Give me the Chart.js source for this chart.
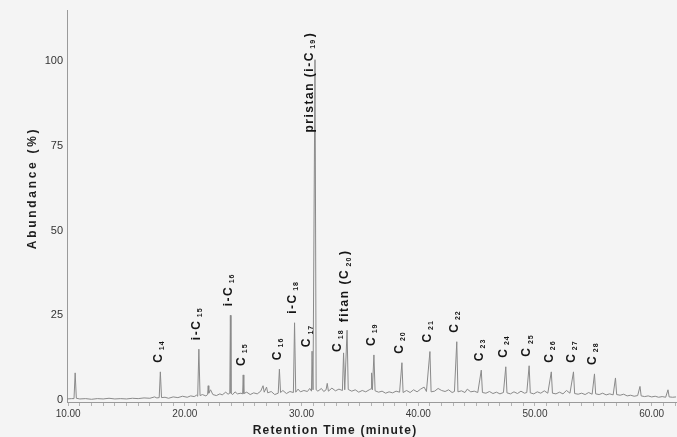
<!DOCTYPE html>
<html>
<head>
    <title>Chromatogram</title>
    <script src="https://cdn.jsdelivr.net/npm/chart.js"></script>
    <style>
        body { margin: 0; background: #f4f4f4; }
        #chart-container { width: 677px; height: 437px; }
    </style>
</head>
<body>
<div id="chart-container">
    <canvas id="gcChart" width="677" height="437"></canvas>
</div>

<script>
    // Trace: retention time (minute) and abundance (%)
    const traceTime = [
        9.9, 10.3, 10.5, 10.6, 10.7, 11.0, 11.5, 12.0, 12.5, 13.0, 13.5, 14.0, 14.5, 15.0, 15.5, 16.0, 16.5, 17.0, 17.4, 17.6,
        17.8, 17.9, 18.0, 18.3, 18.6, 19.0, 19.4, 19.8, 20.2, 20.5, 20.8, 21.0, 21.1, 21.2, 21.3, 21.5, 21.8, 21.95, 22.0, 22.05,
        22.2, 22.4, 22.7, 23.0, 23.2, 23.5, 23.7, 23.85, 23.9, 23.95, 24.1, 24.3, 24.5, 24.8, 24.95, 25.0, 25.05, 25.3, 25.6, 25.9,
        26.2, 26.5, 26.7, 26.8, 27.0, 27.1, 27.4, 27.7, 28.0, 28.1, 28.2, 28.4, 28.7, 29.0, 29.3, 29.4, 29.5, 29.7, 29.9, 30.2,
        30.5, 30.7, 30.85, 30.9, 30.98, 31.15, 31.25, 31.4, 31.7, 31.9, 32.1, 32.2, 32.3, 32.6, 32.9, 33.2, 33.5, 33.6, 33.7, 33.9,
        34.0, 34.3, 34.6, 34.9, 35.2, 35.5, 35.8, 35.95, 36.0, 36.07, 36.2, 36.3, 36.6, 36.9, 37.2, 37.5, 37.8, 38.1, 38.4, 38.6,
        38.7, 39.0, 39.3, 39.6, 39.9, 40.2, 40.5, 40.7, 41.0, 41.1, 41.4, 41.7, 42.0, 42.3, 42.6, 42.9, 43.1, 43.3, 43.4, 43.7,
        44.0, 44.2, 44.5, 44.8, 45.1, 45.4, 45.5, 45.8, 46.1, 46.4, 46.7, 47.0, 47.3, 47.5, 47.6, 47.9, 48.2, 48.5, 48.8, 49.1,
        49.3, 49.5, 49.6, 49.9, 50.2, 50.5, 50.8, 51.1, 51.4, 51.5, 51.8, 52.1, 52.4, 52.7, 53.0, 53.3, 53.4, 53.7, 54.0, 54.3,
        54.6, 54.9, 55.1, 55.2, 55.5, 55.8, 56.1, 56.4, 56.7, 56.9, 57.0, 57.3, 57.6, 57.9, 58.2, 58.5, 58.8, 59.0, 59.1, 59.4,
        59.7, 60.0, 60.3, 60.6, 60.9, 61.2, 61.4, 61.5, 61.8, 62.1
    ];
    const traceAbundance = [
        0.3, 0.4, 0.4, 8.0, 0.5, 0.3, 0.4, 0.2, 0.4, 0.3, 0.5, 0.3, 0.4, 0.3, 0.5, 0.4, 0.6, 0.5, 0.9, 0.6,
        0.7, 8.3, 0.7, 0.8, 0.5, 0.9, 0.7, 1.1, 0.8, 1.2, 1.0, 1.4, 1.1, 15.0, 1.3, 1.6, 1.2, 1.6, 4.2, 2.0,
        3.0, 1.6, 1.3, 1.8, 1.5, 2.3, 1.7, 2.0, 25.0, 2.0, 1.6, 2.4, 1.8, 2.0, 1.8, 7.4, 1.9, 2.3, 1.6, 2.1,
        1.8, 2.6, 4.2, 2.3, 3.8, 2.1, 2.5, 1.6, 2.0, 9.1, 2.2, 2.8, 1.9, 2.5, 2.2, 22.8, 2.3, 3.2, 2.4, 2.8,
        2.5, 3.4, 2.6, 14.4, 3.0, 100.5, 3.0, 2.6, 3.4, 2.5, 3.0, 4.9, 2.6, 3.5, 2.7, 3.2, 2.8, 13.9, 3.0, 20.6,
        3.1, 2.6, 3.0, 2.3, 2.8, 2.4, 3.0, 3.3, 8.0, 3.0, 13.3, 2.7, 2.3, 2.6, 2.0, 2.4, 2.1, 2.6, 2.3, 11.0,
        2.2, 2.8, 2.2, 3.0, 2.4, 3.2, 3.8, 2.5, 14.3, 2.4, 2.6, 3.4, 2.8, 2.5, 3.0, 2.2, 2.5, 17.2, 2.4, 2.7,
        2.2, 3.2, 2.4, 2.6, 2.2, 8.8, 2.2, 2.0, 2.5, 1.9, 2.3, 1.8, 2.2, 9.8, 2.1, 1.8, 2.4, 1.9, 2.6, 2.0,
        2.2, 10.1, 2.1, 1.8, 2.4, 2.0, 2.7, 2.0, 8.3, 2.0, 1.8, 2.3, 1.8, 2.8, 2.0, 8.3, 1.9, 1.7, 2.0, 1.6,
        2.2, 1.7, 7.7, 1.8, 1.6, 2.0, 1.5, 1.8, 1.5, 6.5, 1.6, 1.4, 1.7, 1.2, 1.4, 1.1, 1.3, 4.0, 1.2, 1.0,
        1.2, 0.9, 1.1, 0.8, 1.0, 0.8, 3.0, 0.9, 0.8, 0.9
    ];

    // Named peaks
    const peakTime = [17.9, 21.2, 23.9, 25.0, 28.1, 29.4, 30.9, 31.15, 33.6, 33.9, 36.2, 38.6, 41.0, 43.3, 45.4, 47.5, 49.5, 51.4, 53.3, 55.1];
    const peakAbundance = [8.3, 15.0, 25.0, 7.4, 9.1, 22.8, 14.4, 100.5, 13.9, 20.6, 13.3, 11.0, 14.3, 17.2, 8.8, 9.8, 10.1, 8.3, 8.3, 7.7];
    const peakName = ['C', 'i-C', 'i-C', 'C', 'C', 'i-C', 'C', 'pristan (i-C', 'C', 'fitan (C', 'C', 'C', 'C', 'C', 'C', 'C', 'C', 'C', 'C', 'C'];
    const peakSub = ['14', '15', '16', '15', '16', '18', '17', '19', '18', '20', '19', '20', '21', '22', '23', '24', '25', '26', '27', '28'];
    const peakEnd = ['', '', '', '', '', '', '', ')', '', ')', '', '', '', '', '', '', '', '', '', ''];

    // Axis ticks
    const xTickValues = [10, 20, 30, 40, 50, 60];
    const xTickLabels = ['10.00', '20.00', '30.00', '40.00', '50.00', '60.00'];
    const yTickValues = [0, 25, 50, 75, 100];
    const yTickLabels = ['0', '25', '50', '75', '100'];

    const labelFont = '"Liberation Sans", Arial, sans-serif';

    // peaks whose label sits beside the line instead of above it: [dx, gap]
    const labelShift = { 6: [-5, 4], 8: [-6, 1], 9: [-2, 8] };

    function drawRotated(c, x, yBottom, main, sub, end) {
        c.save();
        c.translate(x, yBottom);
        c.rotate(-Math.PI / 2);
        c.textBaseline = 'middle';
        c.textAlign = 'left';
        c.fillStyle = '#151515';
        c.letterSpacing = '1.5px';
        c.font = 'bold 12px ' + labelFont;
        c.fillText(main, 0, 0);
        let w = c.measureText(main).width + 2.5;
        c.font = 'bold 7px ' + labelFont;
        c.letterSpacing = '1px';
        c.fillText(sub, w, 3.5);
        w += c.measureText(sub).width + 1.5;
        if (end) {
            c.font = 'bold 12px ' + labelFont;
            c.letterSpacing = '1.5px';
            c.fillText(end, w, 0);
        }
        c.restore();
    }

    const peakLabels = {
        id: 'peakLabels',
        afterDatasetsDraw(chart) {
            const c = chart.ctx;
            const xs = chart.scales.x;
            const ys = chart.scales.y;
            peakTime.forEach((t, i) => {
                const px = xs.getPixelForValue(t);
                let dx = -2, gap = 9;
                if (labelShift[i]) { dx = labelShift[i][0]; gap = labelShift[i][1]; }
                let yb = ys.getPixelForValue(peakAbundance[i]) - gap;
                if (peakAbundance[i] > 50) {
                    // pristane label runs alongside the tall peak
                    yb = ys.getPixelForValue(79);
                    dx = -5;
                }
                drawRotated(c, px + dx, yb, peakName[i], peakSub[i], peakEnd[i]);
            });

            // axis titles, letter-spaced
            c.save();
            c.fillStyle = '#1e1e1e';
            c.font = 'bold 12px ' + labelFont;
            c.textAlign = 'center';
            c.textBaseline = 'middle';
            c.letterSpacing = '1.2px';
            c.fillText('Retention Time (minute)', 335, 431);
            c.translate(33, 188);
            c.rotate(-Math.PI / 2);
            c.letterSpacing = '2.7px';
            c.fillText('Abundance (%)', 0, 0);
            c.restore();
        }
    };

    const bgPlugin = {
        id: 'bg',
        beforeDraw(chart) {
            const c = chart.ctx;
            c.save();
            c.fillStyle = '#f4f4f4';
            c.fillRect(0, 0, chart.width, chart.height);
            c.restore();
        }
    };

    const ctx = document.getElementById('gcChart').getContext('2d');
    const gcChart = new Chart(ctx, {
        type: 'line',
        data: {
            datasets: [{
                label: 'Abundance',
                data: traceTime.map((t, i) => ({ x: t, y: traceAbundance[i] })),
                borderColor: '#8a8a8a',
                borderWidth: 1,
                pointRadius: 0,
                tension: 0,
                fill: false
            }]
        },
        options: {
            responsive: false,
            animation: false,
            devicePixelRatio: 1,
            layout: { padding: { top: 10, right: 0, left: 0, bottom: 0 } },
            plugins: {
                legend: { display: false },
                tooltip: { enabled: false }
            },
            scales: {
                x: {
                    type: 'linear',
                    min: 9.9,
                    max: 62.1,
                    afterBuildTicks: (axis) => {
                        const ticks = [];
                        for (let m = 10; m <= 62; m++) ticks.push({ value: m });
                        axis.ticks = ticks;
                    },
                    afterFit: (axis) => { axis.height = 35; },
                    grid: { drawOnChartArea: false, drawTicks: true, tickLength: 4, color: '#b4b4b4' },
                    border: { display: true, color: '#9a9a9a', width: 1 },
                    ticks: {
                        autoSkip: false,
                        maxRotation: 0,
                        padding: 2,
                        color: '#3a3a3a',
                        font: { family: '"Liberation Sans Narrow", "Liberation Sans", sans-serif', size: 10 },
                        callback: (v) => {
                            const k = xTickValues.indexOf(v);
                            return k >= 0 ? xTickLabels[k] : '';
                        }
                    }
                },
                y: {
                    min: -0.6,
                    max: 115,
                    afterBuildTicks: (axis) => {
                        axis.ticks = yTickValues.map(v => ({ value: v }));
                    },
                    afterFit: (axis) => { axis.width = 67; },
                    grid: { drawOnChartArea: false, drawTicks: false },
                    border: { display: true, color: '#9a9a9a', width: 1 },
                    ticks: {
                        padding: 4,
                        color: '#333',
                        font: { family: labelFont, size: 11 },
                        callback: (v) => {
                            const k = yTickValues.indexOf(v);
                            return k >= 0 ? yTickLabels[k] : '';
                        }
                    }
                }
            }
        },
        plugins: [bgPlugin, peakLabels]
    });
</script>
</body>
</html>
